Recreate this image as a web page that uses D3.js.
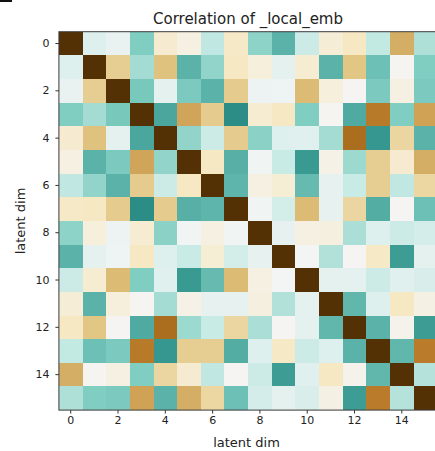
<!DOCTYPE html>
<html>
<head>
<meta charset="utf-8">
<script src="https://cdn.jsdelivr.net/npm/d3@7"></script>
<style>
  html, body { margin: 0; padding: 0; background: #ffffff; }
  svg { display: block; font-family: "DejaVu Sans", sans-serif; }
</style>
</head>
<body>
<svg id="chart" width="435" height="451"></svg>
<script>
// ---------- data ----------
const latentDims = d3.range(16);
const tickValues = [0, 2, 4, 6, 8, 10, 12, 14];
const titleText = "Correlation of _local_emb";
const xLabelText = "latent dim";
const yLabelText = "latent dim";

const corrMatrix = [
  [ 1.00,-0.10,-0.05,-0.40, 0.15, 0.08,-0.22, 0.18,-0.36,-0.50,-0.18, 0.12, 0.20,-0.21, 0.46,-0.27],
  [-0.10, 1.00, 0.34,-0.30, 0.40,-0.50,-0.35, 0.20, 0.10,-0.07, 0.14,-0.50, 0.38,-0.45, 0.02,-0.40],
  [-0.05, 0.34, 1.00,-0.42,-0.07,-0.41,-0.50, 0.35,-0.04,-0.03, 0.42, 0.10, 0.01,-0.41, 0.08,-0.41],
  [-0.40,-0.30,-0.42, 1.00,-0.54, 0.49, 0.35,-0.64, 0.14, 0.20,-0.40, 0.02,-0.53, 0.63,-0.40, 0.50],
  [ 0.15, 0.40,-0.07,-0.54, 1.00,-0.35,-0.18, 0.35,-0.37,-0.10,-0.09,-0.30, 0.68,-0.60, 0.30,-0.50],
  [ 0.08,-0.50,-0.41, 0.49,-0.35, 1.00, 0.20,-0.51,-0.02,-0.19,-0.59, 0.06,-0.32, 0.34, 0.15, 0.46],
  [-0.22,-0.35,-0.50, 0.35,-0.18, 0.20, 1.00,-0.49, 0.08, 0.13,-0.47,-0.06,-0.19, 0.34,-0.22, 0.29],
  [ 0.18, 0.20, 0.35,-0.64, 0.35,-0.51,-0.49, 1.00,-0.02,-0.15, 0.42,-0.06, 0.30,-0.52, 0.01,-0.45],
  [-0.36, 0.10,-0.04, 0.14,-0.37,-0.02, 0.08,-0.02, 1.00,-0.06, 0.08, 0.09,-0.28,-0.10,-0.18,-0.14],
  [-0.50,-0.07,-0.03, 0.20,-0.10,-0.19, 0.13,-0.15,-0.06, 1.00,-0.01,-0.26, 0.01, 0.19,-0.58,-0.07],
  [-0.18, 0.14, 0.42,-0.40,-0.09,-0.59,-0.47, 0.42, 0.08,-0.01, 1.00,-0.07,-0.07,-0.18,-0.09,-0.12],
  [ 0.12,-0.50, 0.10, 0.02,-0.30, 0.06,-0.06,-0.06, 0.09,-0.26,-0.07, 1.00,-0.48,-0.10, 0.20, 0.07],
  [ 0.20, 0.38, 0.01,-0.53, 0.68,-0.32,-0.19, 0.30,-0.28, 0.01,-0.07,-0.48, 1.00,-0.50, 0.04,-0.58],
  [-0.21,-0.45,-0.41, 0.63,-0.60, 0.34, 0.34,-0.52,-0.10, 0.19,-0.18,-0.10,-0.50, 1.00,-0.48, 0.62],
  [ 0.46, 0.02, 0.08,-0.40, 0.30, 0.15,-0.22, 0.01,-0.18,-0.58,-0.09, 0.20, 0.04,-0.48, 1.00,-0.25],
  [-0.27,-0.40,-0.41, 0.50,-0.50, 0.46, 0.29,-0.45,-0.14,-0.07,-0.12, 0.07,-0.58, 0.62,-0.25, 1.00]
];

// BrBG (reversed: +1 -> dark brown, -1 -> dark teal)
const colorStops = ["#003c30","#01665e","#35978f","#80cdc1","#c7eae5","#f5f5f5",
                    "#f6e8c3","#dfc27d","#bf812d","#8c510a","#543005"];

// ---------- layout ----------
const plotLeft = 58.9, plotTop = 31.7, cellSize = 23.65;
const plotSize = cellSize * latentDims.length;

const svg = d3.select("#chart");

const x = d3.scaleBand().domain(latentDims).range([plotLeft, plotLeft + plotSize]).padding(0);
const y = d3.scaleBand().domain(latentDims).range([plotTop, plotTop + plotSize]).padding(0);
const color = d3.scaleLinear()
  .domain(d3.range(colorStops.length).map(i => -1 + 2 * i / (colorStops.length - 1)))
  .range(colorStops)
  .interpolate(d3.interpolateRgb)
  .clamp(true);

const cells = [];
corrMatrix.forEach((row, i) => row.forEach((v, j) => cells.push({ i, j, v })));

svg.append("g")
  .selectAll("rect")
  .data(cells)
  .join("rect")
  .attr("x", d => x(d.j))
  .attr("y", d => y(d.i))
  .attr("width", x.bandwidth() + 0.3)
  .attr("height", y.bandwidth() + 0.3)
  .attr("fill", d => color(d.v))
  .attr("shape-rendering", "crispEdges");

// frame
svg.append("rect")
  .attr("x", plotLeft).attr("y", plotTop)
  .attr("width", plotSize).attr("height", plotSize)
  .attr("fill", "none").attr("stroke", "#3a3a3a").attr("stroke-width", 1);

// x axis
const xAxis = d3.axisBottom(x).tickValues(tickValues).tickSize(3.5).tickPadding(2.5);
const gx = svg.append("g").attr("transform", `translate(0,${plotTop + plotSize})`).call(xAxis);
gx.select(".domain").remove();
gx.selectAll("line").attr("stroke", "#333");
gx.selectAll("text").attr("fill", "#222").style("font-size", "11px").style("font-family", "DejaVu Sans");

// y axis
const yAxis = d3.axisLeft(y).tickValues(tickValues).tickSize(3.5).tickPadding(6);
const gy = svg.append("g").attr("transform", `translate(${plotLeft},0)`).call(yAxis);
gy.select(".domain").remove();
gy.selectAll("line").attr("stroke", "#333");
gy.selectAll("text").attr("fill", "#222").style("font-size", "11px").style("font-family", "DejaVu Sans");

// title
svg.append("text")
  .attr("x", 248).attr("y", 24)
  .attr("text-anchor", "middle")
  .style("font-size", "15px")
  .attr("fill", "#222")
  .text(titleText);

// axis labels
svg.append("text")
  .attr("x", 246.5).attr("y", 447)
  .attr("text-anchor", "middle")
  .style("font-size", "13px")
  .attr("fill", "#222")
  .text(xLabelText);

svg.append("text")
  .attr("transform", "translate(25,221) rotate(-90)")
  .attr("text-anchor", "middle")
  .style("font-size", "13px")
  .attr("fill", "#222")
  .text(yLabelText);

// small cropped mark at the top-left corner
svg.append("rect").attr("x", 0).attr("y", 0).attr("width", 12).attr("height", 2).attr("fill", "#111");
</script>
</body>
</html>
